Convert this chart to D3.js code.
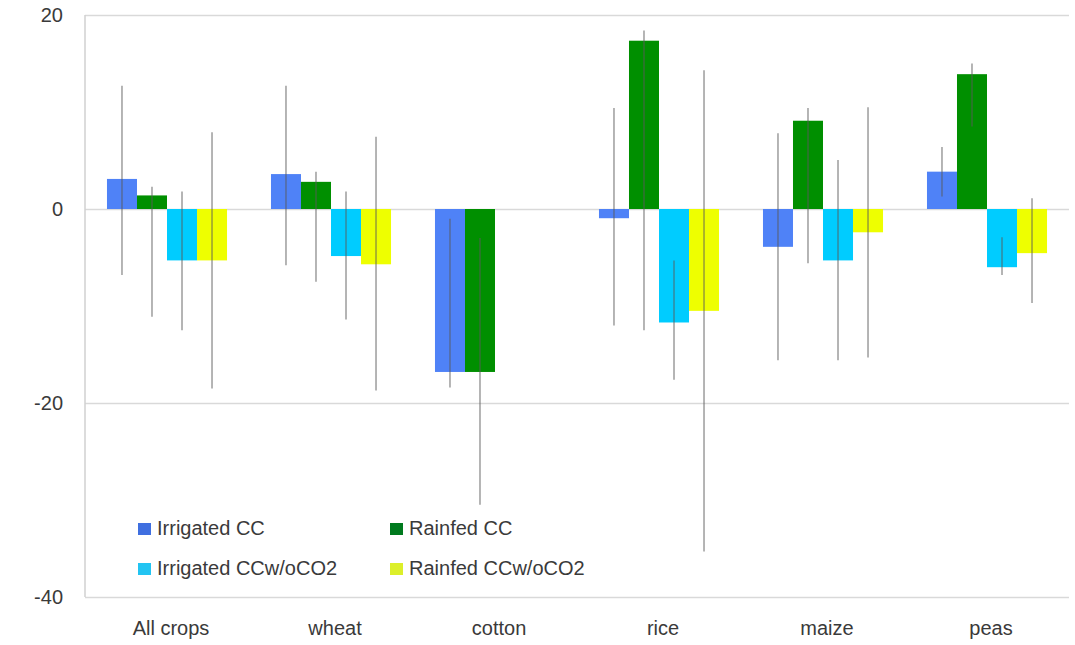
<!DOCTYPE html>
<html>
<head>
<meta charset="utf-8">
<script src="https://cdn.jsdelivr.net/npm/d3@7"></script>
<style>
  body { margin: 0; background: #fff; }
  svg { display: block; font-family: "Liberation Sans", Arial, sans-serif; }
</style>
</head>
<body>
<svg id="chart" width="1075" height="645"></svg>
<script>
// categories and series
const crops = ["All crops", "wheat", "cotton", "rice", "maize", "peas"];
const seriesNames = ["Irrigated CC", "Rainfed CC", "Irrigated CCw/oCO2", "Rainfed CCw/oCO2"];
const seriesColors = ["#4f82f7", "#008f00", "#00ccff", "#eeff00"];
const legendColors = ["#3f6fe0", "#007a1e", "#22c4f2", "#dcef2a"];

// values per series (one per crop), null = no bar
const irrigatedCC = [3.1, 3.6, -16.8, -0.95, -3.9, 3.85];
const rainfedCC = [1.4, 2.8, -16.8, 17.35, 9.1, 13.9];
const irrigatedNoCO2 = [-5.3, -4.85, null, -11.7, -5.3, -6.0];
const rainfedNoCO2 = [-5.3, -5.7, null, -10.5, -2.4, -4.55];

// error bar ranges [low, high]
const irrigatedCCErr = [[-6.8, 12.7], [-5.8, 12.7], [-18.4, -1], [-12, 10.4], [-15.6, 7.8], [1.3, 6.4]];
const rainfedCCErr = [[-11.1, 2.3], [-7.5, 3.85], [-30.5, -3], [-12.5, 18.4], [-5.6, 10.4], [8.5, 15]];
const irrigatedNoCO2Err = [[-12.5, 1.8], [-11.4, 1.8], null, [-17.6, -5.3], [-15.6, 5.05], [-6.8, -2.9]];
const rainfedNoCO2Err = [[-18.5, 7.9], [-18.7, 7.45], null, [-35.3, 14.3], [-15.3, 10.5], [-9.7, 1.1]];

const yTicks = [20, 0, -20, -40];

const values = [irrigatedCC, rainfedCC, irrigatedNoCO2, rainfedNoCO2];
const errors = [irrigatedCCErr, rainfedCCErr, irrigatedNoCO2Err, rainfedNoCO2Err];

const margin = { top: 15, right: 6, bottom: 48, left: 85 };
const svg = d3.select("#chart");
const width = +svg.attr("width") - margin.left - margin.right;
const height = +svg.attr("height") - margin.top - margin.bottom;
const g = svg.append("g").attr("transform", "translate(" + margin.left + "," + margin.top + ")");

// flatten into records, skipping empty slots
var data = [];
crops.forEach((c, i) => {
  seriesNames.forEach((s, j) => {
    if (values[j][i] !== null) {
      data.push({ crop: c, series: s, idx: j, value: values[j][i], err: errors[j][i] });
    }
  });
});

const x0 = d3.scaleBand()
  .domain(crops)
  .range([0, width])
  .paddingInner(0.268)
  .paddingOuter(0.134);

const x1 = d3.scaleBand()
  .domain(seriesNames)
  .range([0, x0.bandwidth()]);

const y = d3.scaleLinear()
  .domain([-40, 20])
  .range([height, 0]);

// gridlines
g.append("g")
  .attr("class", "grid")
  .call(d3.axisLeft(y).tickValues(yTicks).tickSize(-width).tickFormat(""))
  .call((sel) => sel.select(".domain").remove())
  .selectAll("line")
  .attr("stroke", "#d9d9d9")
  .attr("stroke-width", 1.5);

// y axis line
g.append("line")
  .attr("x1", 0).attr("x2", 0)
  .attr("y1", y(20)).attr("y2", y(-40))
  .attr("stroke", "#d0d0d0")
  .attr("stroke-width", 1.5);

// y tick labels (plain hyphen minus like the original)
const yAxis = g.append("g")
  .attr("class", "axis-y")
  .call(d3.axisLeft(y).tickValues(yTicks).tickSize(0).tickPadding(22).tickFormat((d) => String(d)));
yAxis.select(".domain").remove();
yAxis.selectAll("text")
  .attr("font-size", 20)
  .attr("fill", "#3a3a3a")
  .attr("font-family", "Liberation Sans, Arial, sans-serif");

// x tick labels
const xAxis = g.append("g")
  .attr("class", "axis-x")
  .attr("transform", "translate(0," + height + ")")
  .call(d3.axisBottom(x0).tickSize(0).tickPadding(24));
xAxis.select(".domain").remove();
xAxis.selectAll("text")
  .attr("font-size", 20)
  .attr("fill", "#3a3a3a")
  .attr("dx", "4")
  .attr("font-family", "Liberation Sans, Arial, sans-serif");

// bars
g.selectAll(".bar")
  .data(data)
  .enter().append("rect")
  .attr("class", "bar")
  .attr("x", (d) => x0(d.crop) + x1(d.series))
  .attr("y", (d) => y(Math.max(0, d.value)))
  .attr("width", x1.bandwidth())
  .attr("height", (d) => Math.abs(y(d.value) - y(0)))
  .attr("fill", (d) => seriesColors[d.idx]);

// error bars
g.selectAll(".err")
  .data(data.filter((d) => d.err))
  .enter().append("line")
  .attr("class", "err")
  .attr("x1", (d) => x0(d.crop) + x1(d.series) + x1.bandwidth() / 2)
  .attr("x2", (d) => x0(d.crop) + x1(d.series) + x1.bandwidth() / 2)
  .attr("y1", (d) => y(d.err[1]))
  .attr("y2", (d) => y(d.err[0]))
  .attr("stroke", "#5a5a5a")
  .attr("stroke-opacity", 0.6)
  .attr("stroke-width", 1.5);

// legend, two columns by two rows
const legend = svg.append("g").attr("class", "legend");
const legendPos = [[138, 523], [390, 523], [138, 563], [390, 563]];
seriesNames.forEach((s, j) => {
  const item = legend.append("g")
    .attr("transform", "translate(" + legendPos[j][0] + "," + legendPos[j][1] + ")");
  item.append("rect")
    .attr("width", 13).attr("height", 12)
    .attr("fill", legendColors[j]);
  item.append("text")
    .attr("x", 19).attr("y", 12)
    .attr("font-size", 20)
    .attr("fill", "#3a3a3a")
    .text(s);
});
</script>
</body>
</html>
